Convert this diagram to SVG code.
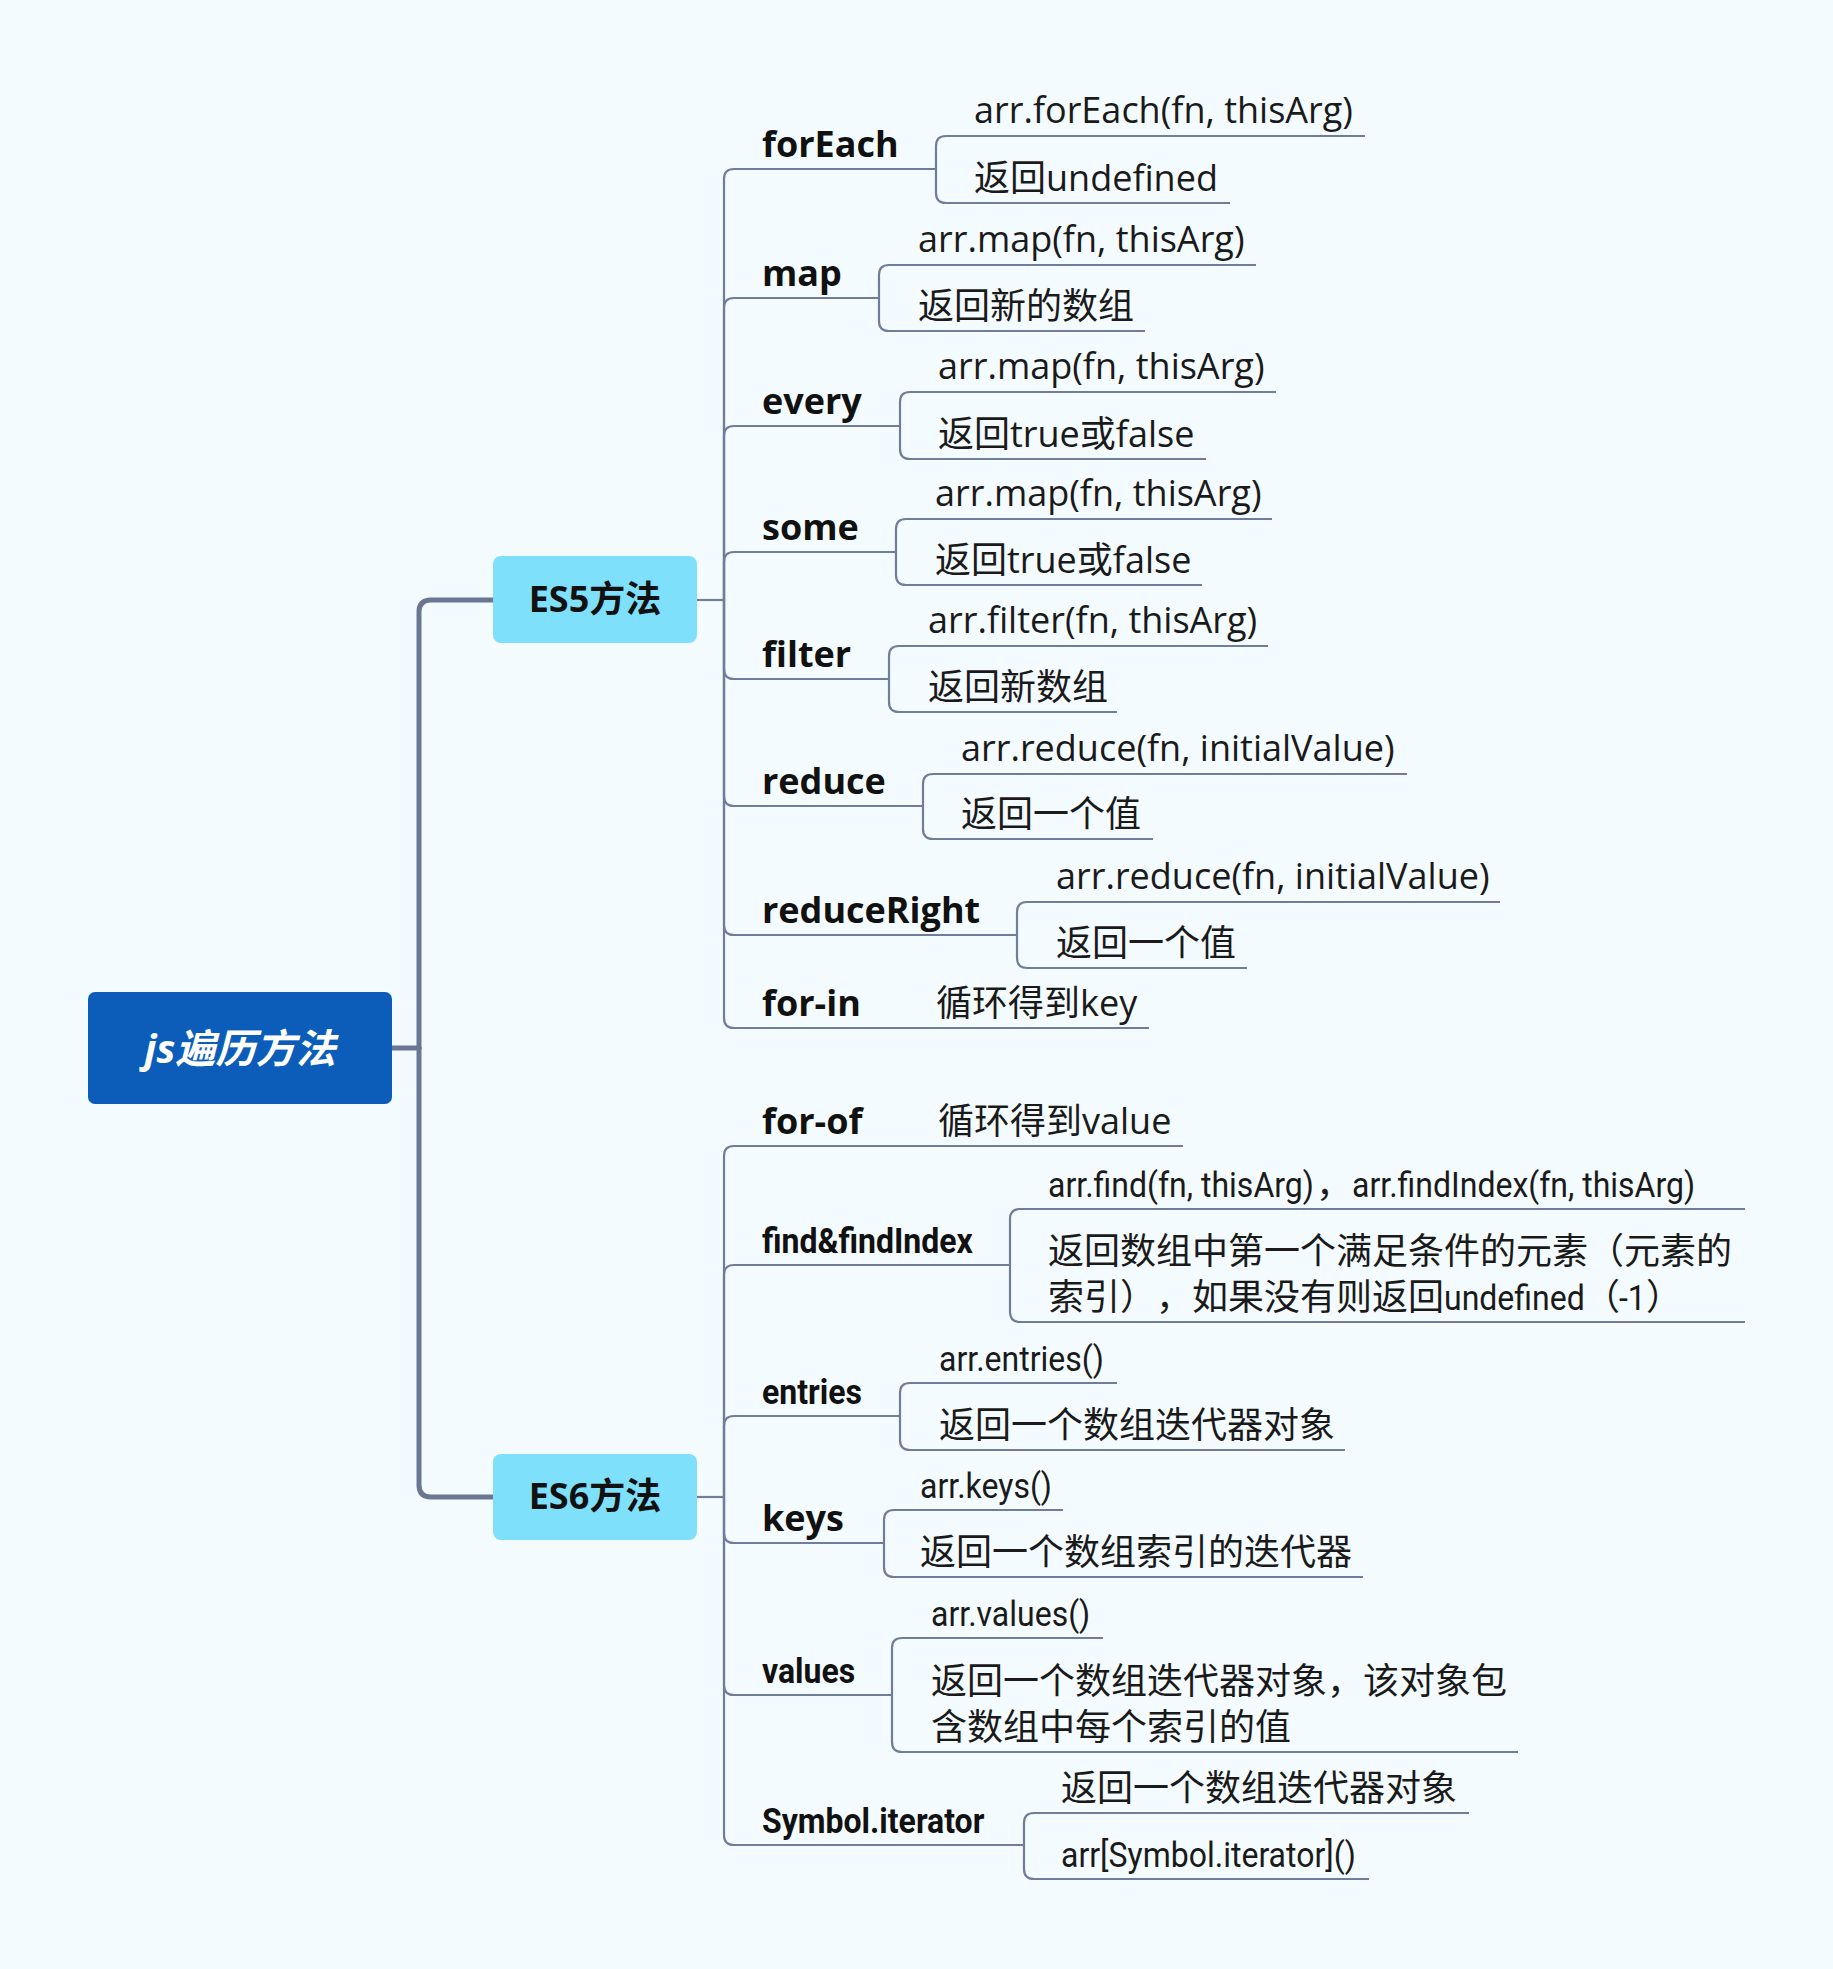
<svg xmlns="http://www.w3.org/2000/svg" width="1833" height="1969" viewBox="0 0 1833 1969">
<style>
.bg{fill:#F4FBFE}
.main{fill:none;stroke:#6B7792;stroke-width:5;stroke-linecap:round}
.ln{fill:none;stroke:#6F7D9B;stroke-width:2.2}
.root{fill:#0B5DB9}
.sec{fill:#7FE0FC}
.rt{font-family:'Open Sans','Noto Sans CJK SC',sans-serif;font-size:40px;font-weight:bold;font-style:italic;fill:#fff}
.st{font-family:'Open Sans','Noto Sans CJK SC',sans-serif;font-size:36px;font-weight:bold;fill:#111}
.lbl{font-family:'Open Sans','Noto Sans CJK SC',sans-serif;font-size:36px;font-weight:bold;fill:#111}
.lblr{font-family:Roboto,'Noto Sans CJK SC',sans-serif;font-size:36px;font-weight:bold;fill:#111}
.tx{font-family:'Open Sans','Noto Sans CJK SC',sans-serif;font-size:36px;fill:#1a1a1a}
.txr{font-family:Roboto,'Noto Sans CJK SC',sans-serif;font-size:36px;fill:#1a1a1a}
</style>
<rect class="bg" x="0" y="0" width="1833" height="1969"/>
<g id="connectors">
<path class="main" d="M392,1048 H419"/>
<path class="main" d="M419,1048 V612 Q419,600 431,600 H493"/>
<path class="main" d="M419,1048 V1485 Q419,1497 431,1497 H493"/>
<path class="ln" d="M697,600 H724"/>
<path class="ln" d="M724,600 V179 Q724,169 734,169 H936"/>
<path class="ln" d="M724,600 V308 Q724,298 734,298 H879"/>
<path class="ln" d="M724,600 V436 Q724,426 734,426 H900"/>
<path class="ln" d="M724,600 V562 Q724,552 734,552 H896"/>
<path class="ln" d="M724,600 V669 Q724,679 734,679 H889"/>
<path class="ln" d="M724,600 V796 Q724,806 734,806 H923"/>
<path class="ln" d="M724,600 V925 Q724,935 734,935 H1017"/>
<path class="ln" d="M724,600 V1018 Q724,1028 734,1028 H1149"/>
<path class="ln" d="M1365,136 H946 Q936,136 936,146 V193 Q936,203 946,203 H1230"/>
<path class="ln" d="M1256,265 H889 Q879,265 879,275 V321 Q879,331 889,331 H1145"/>
<path class="ln" d="M1276,392 H910 Q900,392 900,402 V449 Q900,459 910,459 H1206"/>
<path class="ln" d="M1272,519 H906 Q896,519 896,529 V575 Q896,585 906,585 H1202"/>
<path class="ln" d="M1268,646 H899 Q889,646 889,656 V702 Q889,712 899,712 H1117"/>
<path class="ln" d="M1407,774 H933 Q923,774 923,784 V829 Q923,839 933,839 H1153"/>
<path class="ln" d="M1500,902 H1027 Q1017,902 1017,912 V958 Q1017,968 1027,968 H1247"/>
<path class="ln" d="M697,1497 H724"/>
<path class="ln" d="M724,1497 V1156 Q724,1146 734,1146 H1183"/>
<path class="ln" d="M724,1497 V1275 Q724,1265 734,1265 H1010"/>
<path class="ln" d="M724,1497 V1426 Q724,1416 734,1416 H900"/>
<path class="ln" d="M724,1497 V1533 Q724,1543 734,1543 H884"/>
<path class="ln" d="M724,1497 V1685 Q724,1695 734,1695 H892"/>
<path class="ln" d="M724,1497 V1835 Q724,1845 734,1845 H1024"/>
<path class="ln" d="M1745,1209 H1020 Q1010,1209 1010,1219 V1312 Q1010,1322 1020,1322 H1745"/>
<path class="ln" d="M1117,1383 H910 Q900,1383 900,1393 V1440 Q900,1450 910,1450 H1345"/>
<path class="ln" d="M1063,1510 H894 Q884,1510 884,1520 V1567 Q884,1577 894,1577 H1363"/>
<path class="ln" d="M1103,1638 H902 Q892,1638 892,1648 V1742 Q892,1752 902,1752 H1518"/>
<path class="ln" d="M1469,1813 H1034 Q1024,1813 1024,1823 V1869 Q1024,1879 1034,1879 H1369"/>
</g>
<g id="root">
<rect class="root" x="88" y="992" width="304" height="112" rx="7"/>
<text class="rt" x="240" y="1063" text-anchor="middle">js遍历方法</text>
</g>
<g id="es5">
<rect class="sec" x="493" y="556" width="204" height="87" rx="8"/>
<text class="st" x="595" y="612" text-anchor="middle">ES5方法</text>
</g>
<g id="es6">
<rect class="sec" x="493" y="1454" width="204" height="86" rx="8"/>
<text class="st" x="595" y="1509" text-anchor="middle">ES6方法</text>
</g>
<g id="forEach">
<text class="lbl" x="762" y="157">forEach</text>
<text class="tx" x="974" y="123">arr.forEach(fn, thisArg)</text>
<text class="tx" x="974" y="191">返回undefined</text>
</g>
<g id="map">
<text class="lbl" x="762" y="286">map</text>
<text class="tx" x="918" y="252">arr.map(fn, thisArg)</text>
<text class="tx" x="918" y="319">返回新的数组</text>
</g>
<g id="every">
<text class="lbl" x="762" y="414">every</text>
<text class="tx" x="938" y="379">arr.map(fn, thisArg)</text>
<text class="tx" x="938" y="447">返回true或false</text>
</g>
<g id="some">
<text class="lbl" x="762" y="540">some</text>
<text class="tx" x="935" y="506">arr.map(fn, thisArg)</text>
<text class="tx" x="935" y="573">返回true或false</text>
</g>
<g id="filter">
<text class="lbl" x="762" y="667">filter</text>
<text class="tx" x="928" y="633">arr.filter(fn, thisArg)</text>
<text class="tx" x="928" y="700">返回新数组</text>
</g>
<g id="reduce">
<text class="lbl" x="762" y="794">reduce</text>
<text class="tx" x="961" y="761">arr.reduce(fn, initialValue)</text>
<text class="tx" x="961" y="827">返回一个值</text>
</g>
<g id="reduceRight">
<text class="lbl" x="762" y="923">reduceRight</text>
<text class="tx" x="1056" y="889">arr.reduce(fn, initialValue)</text>
<text class="tx" x="1056" y="956">返回一个值</text>
</g>
<g id="for-in">
<text class="lbl" x="762" y="1016">for-in</text>
<text class="tx" x="936" y="1016">循环得到key</text>
</g>
<g id="for-of">
<text class="lbl" x="762" y="1134">for-of</text>
<text class="tx" x="938" y="1134">循环得到value</text>
</g>
<g id="find">
<text class="lblr" transform="translate(762,1253) scale(0.889,1)">find&amp;findIndex</text>
<text class="txr" transform="translate(1048,1197) scale(0.889,1)">arr.find(fn, thisArg)</text>
<text class="txr" x="1316" y="1197">，</text>
<text class="txr" transform="translate(1352,1197) scale(0.889,1)">arr.findIndex(fn, thisArg)</text>
<text class="txr" x="1048" y="1264">返回数组中第一个满足条件的元素（元素的</text>
<text class="txr" x="1048" y="1310">索引）</text>
<text class="txr" x="1156" y="1310">，如果没有则返回</text>
<text class="txr" transform="translate(1444,1310) scale(0.889,1)">undefined</text>
<text class="txr" x="1584" y="1310">（</text>
<text class="txr" transform="translate(1619,1310) scale(0.889,1)">-1</text>
<text class="txr" x="1646" y="1310">）</text>
</g>
<g id="entries">
<text class="lblr" transform="translate(762,1404) scale(0.889,1)">entries</text>
<text class="txr" transform="translate(939,1371) scale(0.889,1)">arr.entries()</text>
<text class="txr" x="939" y="1438">返回一个数组迭代器对象</text>
</g>
<g id="keys">
<text class="lbl" x="762" y="1531">keys</text>
<text class="txr" transform="translate(920,1498) scale(0.889,1)">arr.keys()</text>
<text class="txr" x="920" y="1565">返回一个数组索引的迭代器</text>
</g>
<g id="values">
<text class="lblr" transform="translate(762,1683) scale(0.889,1)">values</text>
<text class="txr" transform="translate(931,1626) scale(0.889,1)">arr.values()</text>
<text class="txr" x="931" y="1694">返回一个数组迭代器对象，该对象包</text>
<text class="txr" x="931" y="1740">含数组中每个索引的值</text>
</g>
<g id="symbol">
<text class="lblr" transform="translate(762,1833) scale(0.889,1)">Symbol.iterator</text>
<text class="txr" x="1061" y="1801">返回一个数组迭代器对象</text>
<text class="txr" transform="translate(1061,1867) scale(0.889,1)">arr[Symbol.iterator]()</text>
</g>
</svg>
